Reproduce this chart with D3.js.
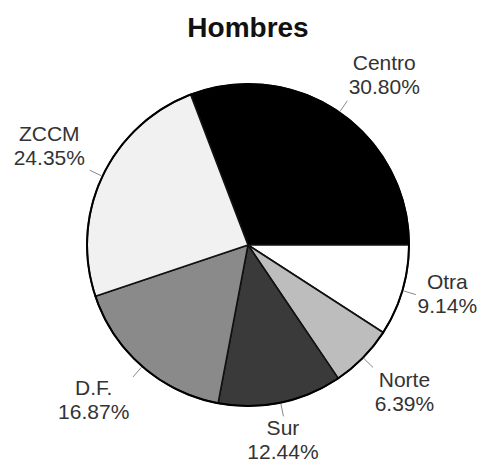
<!DOCTYPE html>
<html><head><meta charset="utf-8">
<script src="https://cdn.jsdelivr.net/npm/d3@7/dist/d3.min.js"></script>
<style>body{margin:0;background:#fff}</style>
</head><body>
<script>
const categories = ["Centro", "Otra", "Norte", "Sur", "D.F.", "ZCCM"];
const values = [30.80, 9.14, 6.39, 12.44, 16.87, 24.35];
const labels = ["30.80%", "9.14%", "6.39%", "12.44%", "16.87%", "24.35%"];
const colors = ["#000000", "#ffffff", "#bdbdbd", "#3a3a3a", "#8a8a8a", "#f1f1f1"];
const title = "Hombres";

// layout (not data)
const W = 481, H = 463, cx = 248, cy = 245, R = 161;
const labelShift = {"Centro": [16, 9], "Otra": [-4, -7], "Norte": [5, 3], "Sur": [-8, -9], "D.F.": [-15, -1], "ZCCM": [-7, -4]};

const svg = d3.select("body").append("svg").attr("width", W).attr("height", H)
  .style("font-family", "'Liberation Sans', Arial, sans-serif");

svg.append("text").attr("x", cx).attr("y", 37).attr("text-anchor", "middle")
  .attr("font-size", 28).attr("font-weight", "bold").attr("fill", "#111").text(title);

const data = categories.map((c, i) => ({name: c, value: values[i], label: labels[i], color: colors[i]}));
const total = d3.sum(values);
const startAngle = -(values[0] / total) * 2 * Math.PI + Math.PI / 2;
const pie = d3.pie().value(d => d.value).sort(null)
  .startAngle(startAngle).endAngle(startAngle + 2 * Math.PI);
const arcs = pie(data);
const arc = d3.arc().innerRadius(0).outerRadius(R);

const g = svg.append("g").attr("transform", `translate(${cx},${cy})`);
g.selectAll("path.slice").data(arcs).join("path").attr("class", "slice")
  .attr("d", arc).attr("fill", d => d.data.color)
  .attr("stroke", "#111").attr("stroke-width", 1.6).attr("stroke-linejoin", "round");
g.append("circle").attr("r", R).attr("fill", "none").attr("stroke", "#000").attr("stroke-width", 2);

const polar = (a, r) => [Math.sin(a) * r, -Math.cos(a) * r];
g.selectAll("line.leader").data(arcs).join("line").attr("class", "leader")
  .each(function(d) {
    const m = (d.startAngle + d.endAngle) / 2;
    const p1 = polar(m, R + 1), p2 = polar(m, R + 14);
    d3.select(this).attr("x1", p1[0]).attr("y1", p1[1]).attr("x2", p2[0]).attr("y2", p2[1]);
  })
  .attr("stroke", "#888").attr("stroke-width", 1);

const lab = g.selectAll("text.lab").data(arcs).join("text").attr("class", "lab")
  .attr("text-anchor", "middle").attr("font-size", 21).attr("fill", "#333")
  .attr("transform", d => {
    const m = (d.startAngle + d.endAngle) / 2;
    const p = polar(m, 212);
    const s = labelShift[d.data.name] || [0, 0];
    return `translate(${p[0] + s[0]},${p[1] + s[1]})`;
  });
lab.append("tspan").attr("x", 0).attr("y", -9).text(d => d.data.name);
lab.append("tspan").attr("x", 0).attr("y", 15).text(d => d.data.label);
</script>
</body></html>
